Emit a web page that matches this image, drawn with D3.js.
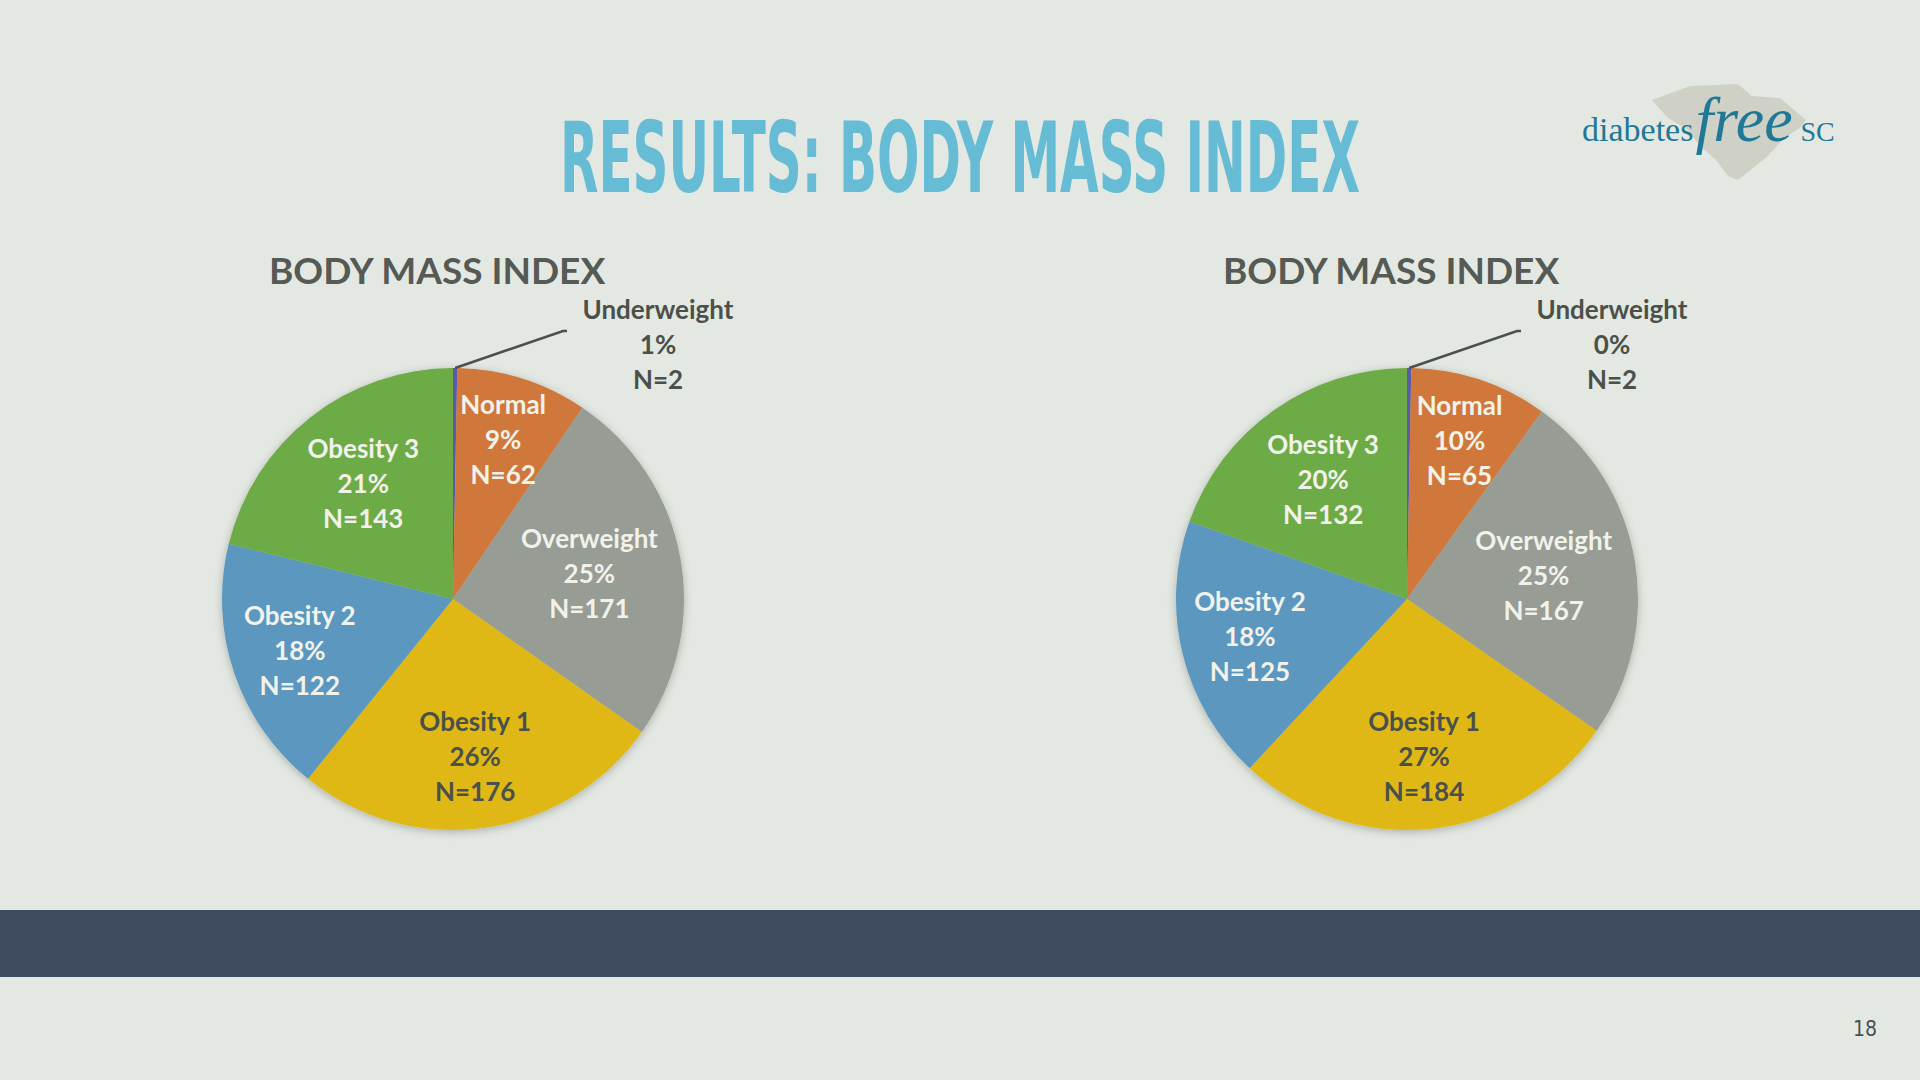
<!DOCTYPE html>
<html>
<head>
<meta charset="utf-8">
<script src="https://cdn.jsdelivr.net/npm/d3@7"></script>
<style>
  html, body { margin: 0; padding: 0; background: #e3e9e2; }
  svg { display: block; }
</style>
</head>
<body>
<svg id="slide" width="1920" height="1080"></svg>
<script>
// data
const categories = ["Underweight", "Normal", "Overweight", "Obesity 1", "Obesity 2", "Obesity 3"];
const countsLeft = [2, 62, 171, 176, 122, 143];
const pctLeft = ["1%", "9%", "25%", "26%", "18%", "21%"];
const countsRight = [2, 65, 167, 184, 125, 132];
const pctRight = ["0%", "10%", "25%", "27%", "18%", "20%"];
const chartTitles = ["BODY MASS INDEX", "BODY MASS INDEX"];

// styling
const colors = d3.scaleOrdinal()
    .domain(categories)
    .range(["#5a5aa8", "#d0783a", "#979c95", "#e0b815", "#5b97c0", "#6dab47"]);
const labelColor = {
    "Normal": "#f1f2ea", "Overweight": "#f1f2ea", "Obesity 1": "#4b504b",
    "Obesity 2": "#f1f2ea", "Obesity 3": "#f1f2ea"
};
// how far out (fraction of radius) each label sits, like Excel's best fit
const labelRadius = {
    "Normal": 0.72, "Overweight": 0.60, "Obesity 1": 0.69, "Obesity 2": 0.70, "Obesity 3": 0.63
};

const W = 1920, H = 1080;
const svg = d3.select("#slide");

svg.append("rect").attr("width", W).attr("height", H).attr("fill", "#e3e9e2");

const defs = svg.append("defs");
defs.append("filter")
    .attr("id", "pie-shadow")
    .attr("x", "-20%").attr("y", "-20%").attr("width", "140%").attr("height", "140%")
  .append("feDropShadow")
    .attr("dx", 0).attr("dy", 2)
    .attr("stdDeviation", 4)
    .attr("flood-color", "#000")
    .attr("flood-opacity", 0.25);

// slide title - condensed font squeezed to the width of the original
const title = svg.append("text")
    .text("RESULTS: BODY MASS INDEX")
    .attr("font-family", "'Liberation Sans Narrow', 'DejaVu Sans Condensed', sans-serif")
    .attr("font-weight", "bold")
    .attr("font-size", 98)
    .attr("fill", "#66bcd4");
const titleW = title.node().getComputedTextLength();
title.attr("transform", `translate(560,192) scale(${800 / titleW},1)`);

// logo
const logo = svg.append("g").attr("class", "logo");
logo.append("path")
    .attr("d", "M1652,100 L1690,86 L1738,84 L1752,96 L1780,98 L1806,120 L1800,128 L1784,138 L1768,156 L1748,172 L1738,180 L1728,176 L1716,160 L1700,146 L1688,130 L1668,118 Z")
    .attr("fill", "#cfd1c6");
const logoParts = [
    { s: "diabetes", size: 34, style: "normal", gap: 2 },
    { s: "free", size: 64, style: "italic", gap: 8 },
    { s: "SC", size: 28, style: "normal", gap: 0 }
];
let lx = 1582;
logoParts.forEach(p => {
    const t = logo.append("text")
        .text(p.s)
        .attr("x", lx).attr("y", 141)
        .attr("font-family", "'Liberation Serif', 'DejaVu Serif', serif")
        .attr("font-size", p.size)
        .attr("font-style", p.style)
        .attr("fill", "#1e7896");
    lx += t.node().getComputedTextLength() + p.gap;
});

// footer band and page number
svg.append("rect")
    .attr("x", 0).attr("y", 910)
    .attr("width", W).attr("height", 67)
    .attr("fill", "#3f4b5f");
svg.append("text")
    .text("18")
    .attr("x", 1865).attr("y", 1036)
    .attr("text-anchor", "middle")
    .attr("font-family", "'Liberation Sans Narrow', 'DejaVu Sans Condensed', sans-serif")
    .attr("font-size", 21)
    .attr("fill", "#4a4f55");

const radius = 231;
const pie = d3.pie().sort(null).value(d => d.n);
const arc = d3.arc().innerRadius(0).outerRadius(radius);

function addLines(textSel, lines) {
    lines.forEach((s, k) => {
        textSel.append("tspan").attr("x", 0).attr("y", (k - 1) * 35 + 9).text(s);
    });
}

function drawPie(cx, cy, titleX, title, counts, pcts) {
    const rows = categories.map((c, i) => ({ name: c, n: counts[i], pct: pcts[i] }));
    const g = svg.append("g").attr("transform", `translate(${cx},${cy})`);

    svg.append("text")
        .text(title)
        .attr("x", titleX).attr("y", 284)
        .attr("font-family", "Lato, 'Open Sans', sans-serif")
        .attr("font-weight", "bold")
        .attr("font-size", 37)
        .attr("fill", "#555a55");

    const arcs = pie(rows);

    g.append("g")
        .attr("filter", "url(#pie-shadow)")
        .selectAll("path")
        .data(arcs)
        .join("path")
        .attr("d", arc)
        .attr("fill", d => colors(d.data.name));

    // inside labels
    const inside = arcs.filter(d => d.data.name !== "Underweight");
    g.append("g").selectAll("text")
        .data(inside)
        .join("text")
        .attr("text-anchor", "middle")
        .attr("font-family", "Lato, 'Open Sans', sans-serif")
        .attr("font-weight", "bold")
        .attr("font-size", 26)
        .attr("fill", d => labelColor[d.data.name])
        .attr("transform", d => {
            const a = (d.startAngle + d.endAngle) / 2;
            const r = radius * labelRadius[d.data.name];
            return `translate(${r * Math.sin(a)},${-r * Math.cos(a)})`;
        })
        .each(function (d) {
            addLines(d3.select(this), [d.data.name, d.data.pct, "N=" + d.data.n]);
        });

    // callout for the tiny slice
    const u = arcs[0];
    const ua = (u.startAngle + u.endAngle) / 2;
    const p0 = [radius * Math.sin(ua), -radius * Math.cos(ua)];
    const elbow = [110, -268];
    g.append("path")
        .attr("d", d3.line()([p0, elbow, [elbow[0] + 4, elbow[1]]]))
        .attr("fill", "none")
        .attr("stroke", "#4b504b")
        .attr("stroke-width", 2.5);
    const ut = g.append("text")
        .attr("text-anchor", "middle")
        .attr("font-family", "Lato, 'Open Sans', sans-serif")
        .attr("font-weight", "bold")
        .attr("font-size", 26)
        .attr("fill", "#4b504b")
        .attr("transform", `translate(205,-254)`);
    addLines(ut, [u.data.name, u.data.pct, "N=" + u.data.n]);
}

drawPie(453, 599, 269, chartTitles[0], countsLeft, pctLeft);
drawPie(1407, 599, 1223, chartTitles[1], countsRight, pctRight);
</script>
</body>
</html>
